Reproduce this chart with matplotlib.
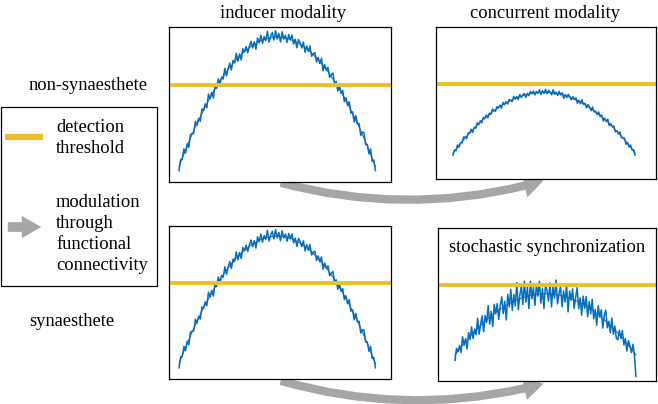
import numpy as np
import matplotlib.pyplot as plt
from matplotlib.patches import FancyArrowPatch, Rectangle

plt.rcParams['font.family'] = ['Liberation Serif', 'DejaVu Serif']

W, H = 658, 404
BLUE = '#0072BD'
SMOOTH = '#1f5bb5'
YELLOW = '#EDBF2A'
GRAY = '#a6a6a6'

# signals (0-10 amplitude units)
inducer = [0.73, 1.46, 1.46, 2.13, 1.86, 2.47, 2.23, 3.06, 3.13, 3.14,
           3.91, 3.65, 4.10, 3.92, 4.71, 4.61, 5.04, 4.79, 5.67, 5.36,
           5.78, 5.42, 6.23, 6.04, 6.66, 6.29, 6.76, 6.64, 7.33, 6.85,
           7.31, 7.67, 7.22, 7.84, 7.69, 8.31, 7.79, 8.26, 7.87, 8.60,
           8.38, 8.74, 8.33, 8.77, 9.08, 8.65, 9.04, 8.56, 9.29, 8.98,
           9.48, 8.94, 9.38, 9.11, 9.72, 9.02, 9.40, 9.65, 9.16, 9.76,
           9.22, 9.58, 9.03, 9.69, 9.22, 9.47, 9.00, 9.51, 9.16, 9.48,
           8.90, 9.21, 8.66, 9.19, 8.99, 8.65, 9.03, 8.37, 8.78, 8.42,
           8.78, 8.11, 8.28, 8.35, 7.74, 8.04, 7.65, 7.98, 7.17, 7.58,
           7.22, 7.39, 6.75, 6.91, 7.03, 6.33, 6.48, 5.86, 6.23, 5.73,
           5.91, 5.18, 5.44, 4.93, 5.18, 4.43, 4.53, 3.87, 4.28, 3.74,
           3.78, 3.01, 3.22, 3.19, 2.41, 2.42, 1.81, 2.13, 1.33, 1.42,
           0.73]
inducer_smooth = [1.00, 2.33, 3.55, 4.65, 5.64, 6.51, 7.26, 7.90, 8.42, 8.83,
                  9.12, 9.29, 9.35, 9.29, 9.12, 8.83, 8.42, 7.90, 7.26, 6.51,
                  5.64, 4.65, 3.55, 2.33, 1.00]

concurrent = [1.57, 1.90, 1.85, 2.24, 2.09, 2.38, 2.37, 2.76, 2.77, 2.66,
              3.03, 3.01, 3.27, 3.07, 3.39, 3.34, 3.70, 3.57, 3.83, 3.70,
              4.05, 3.97, 4.21, 4.03, 4.33, 4.25, 4.60, 4.53, 4.45, 4.76,
              4.68, 4.86, 4.65, 5.04, 4.88, 5.08, 4.93, 5.22, 5.18, 5.10,
              5.43, 5.26, 5.43, 5.23, 5.55, 5.36, 5.52, 5.62, 5.36, 5.64,
              5.48, 5.76, 5.61, 5.78, 5.53, 5.76, 5.64, 5.87, 5.55, 5.81,
              5.63, 5.90, 5.61, 5.84, 5.72, 5.54, 5.88, 5.58, 5.72, 5.50,
              5.77, 5.53, 5.67, 5.31, 5.55, 5.36, 5.57, 5.42, 5.21, 5.41,
              5.23, 5.34, 4.98, 5.18, 4.95, 5.21, 4.91, 4.98, 4.68, 4.90,
              4.72, 4.50, 4.74, 4.40, 4.46, 4.23, 4.41, 4.11, 4.21, 3.81,
              3.99, 3.79, 3.94, 3.51, 3.64, 3.43, 3.48, 3.10, 3.18, 2.96,
              3.10, 2.72, 2.72, 2.69, 2.28, 2.41, 2.11, 2.24, 1.92, 1.92,
              1.57]
concurrent_smooth = [1.70, 2.34, 2.92, 3.45, 3.92, 4.34, 4.70, 5.01, 5.26, 5.45,
                     5.59, 5.67, 5.70, 5.67, 5.59, 5.45, 5.26, 5.01, 4.70, 4.34,
                     3.92, 3.45, 2.92, 2.34, 1.70]

stochastic = [1.35, 2.14, 1.91, 2.32, 1.87, 2.89, 2.33, 2.78, 2.09, 3.16,
              2.71, 3.54, 2.77, 3.40, 3.03, 4.10, 3.06, 3.72, 4.26, 3.22,
              4.28, 3.83, 4.93, 3.71, 4.55, 3.57, 5.01, 4.39, 5.06, 4.02,
              4.91, 5.50, 4.41, 5.21, 3.99, 5.66, 4.84, 5.99, 4.61, 5.65,
              4.91, 6.43, 4.66, 5.61, 6.23, 4.99, 6.52, 5.16, 6.13, 4.74,
              6.53, 5.37, 6.11, 4.94, 6.37, 5.55, 6.52, 5.09, 6.06, 4.74,
              6.30, 5.94, 5.22, 6.41, 4.84, 6.15, 5.42, 6.60, 5.04, 5.73,
              6.18, 4.86, 5.89, 5.16, 6.29, 4.52, 5.88, 5.27, 6.02, 4.74,
              5.47, 6.10, 4.72, 5.44, 4.30, 5.55, 4.74, 5.53, 4.20, 5.19,
              4.39, 5.34, 4.06, 4.69, 3.64, 4.92, 4.17, 4.65, 3.46, 4.28,
              4.63, 3.48, 3.91, 3.14, 4.12, 3.05, 3.59, 2.79, 2.69, 3.32,
              2.78, 3.30, 2.36, 2.78, 1.96, 2.65, 2.28, 1.86, 2.40, 1.67,
              0.30]

threshold = 6.25


def px_axes(fig, x0, y0, x1, y1):
    return fig.add_axes([x0 / W, 1 - y1 / H, (x1 - x0) / W, (y1 - y0) / H])


def panel(ax, sig, smooth, xr):
    x = np.linspace(xr[0], xr[1], len(sig))
    xs = np.linspace(xr[0], xr[1], len(smooth))
    ax.plot(x, sig, color=BLUE, lw=1.1)
    ax.plot(xs, smooth, color=SMOOTH, lw=0.7)
    ax.axhline(threshold, color=YELLOW, lw=2.8)
    ax.set_xlim(0, 1)
    ax.set_ylim(0, 10)
    ax.set_xticks([])
    ax.set_yticks([])
    for s in ax.spines.values():
        s.set_linewidth(0.9)


fig = plt.figure(figsize=(W / 100, H / 100), dpi=100)

# overlay in pixel coordinates for labels, legend and arrows
ov = fig.add_axes([0, 0, 1, 1])
ov.set_xlim(0, W)
ov.set_ylim(H, 0)
ov.axis('off')

fs = 13.3
ov.text(283, 13, 'inducer modality', ha='center', va='center', fontsize=fs)
ov.text(545, 13, 'concurrent modality', ha='center', va='center', fontsize=fs)
ov.text(29, 85, 'non-synaesthete', ha='left', va='center', fontsize=fs)
ov.text(29, 322, 'synaesthete', ha='left', va='center', fontsize=fs)

# legend
ov.add_patch(Rectangle((1, 107), 156, 179, fill=False, ec='black', lw=0.9))
ov.plot([5, 43], [137, 137], color=YELLOW, lw=4.5, solid_capstyle='butt')
ov.text(56, 138, 'detection\nthreshold', ha='left', va='center', fontsize=fs,
        linespacing=1.3)
ov.add_patch(FancyArrowPatch((5, 227), (44, 227), mutation_scale=1,
                             arrowstyle='simple,head_length=14,head_width=16,tail_width=7',
                             color=GRAY, lw=0))
ov.text(56, 234, 'modulation\nthrough\nfunctional\nconnectivity', ha='left',
        va='center', fontsize=fs, linespacing=1.33)

# curved arrows between modalities
for y0, y1 in [(182, 180), (380, 383)]:
    ov.add_patch(FancyArrowPatch((278, y0), (546, y1), mutation_scale=1,
                                 connectionstyle='arc3,rad=0.14',
                                 arrowstyle='simple,head_length=14,head_width=17,tail_width=6',
                                 color=GRAY, lw=0))

ax1 = px_axes(fig, 169, 27, 391, 182)
panel(ax1, inducer, inducer_smooth, (0.045, 0.93))
ax2 = px_axes(fig, 436, 27, 656, 179)
panel(ax2, concurrent, concurrent_smooth, (0.077, 0.905))
ax3 = px_axes(fig, 169, 226, 391, 379)
panel(ax3, inducer, inducer_smooth, (0.045, 0.93))
ax4 = px_axes(fig, 438, 228, 656, 381)
panel(ax4, stochastic, concurrent_smooth, (0.078, 0.908))
ax4.text(0.5, 0.87, 'stochastic synchronization', transform=ax4.transAxes,
         ha='center', va='center', fontsize=fs)

fig.savefig('out.png', dpi=100)
